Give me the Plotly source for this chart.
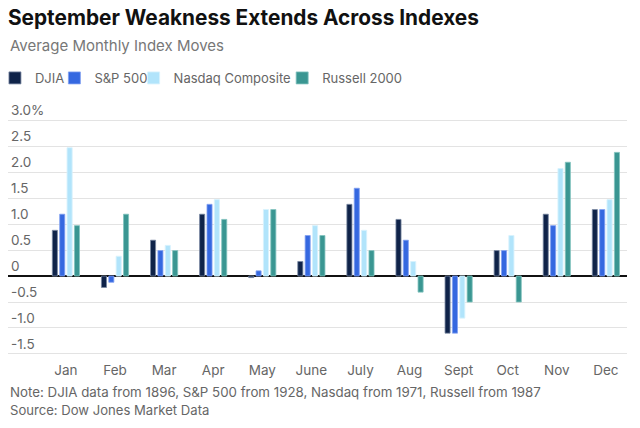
import plotly.graph_objects as go

# average monthly index moves, %
months = ['Jan', 'Feb', 'Mar', 'Apr', 'May', 'June', 'July', 'Aug', 'Sept', 'Oct', 'Nov', 'Dec']
djia = [0.88, -0.22, 0.69, 1.19, -0.03, 0.28, 1.38, 1.09, -1.10, 0.49, 1.19, 1.28]
sp500 = [1.19, -0.12, 0.49, 1.38, 0.10, 0.78, 1.69, 0.69, -1.10, 0.49, 0.97, 1.28]
nasdaq = [2.47, 0.38, 0.59, 1.47, 1.28, 0.97, 0.88, 0.28, -0.81, 0.78, 2.07, 1.47]
russell = [0.97, 1.19, 0.49, 1.09, 1.28, 0.78, 0.49, -0.31, -0.50, -0.50, 2.19, 2.38]

tick_vals = [3.0, 2.5, 2.0, 1.5, 1.0, 0.5, 0, -0.5, -1.0, -1.5]
tick_text = ['3.0%', '2.5', '2.0', '1.5', '1.0', '0.5', '0', '-0.5', '-1.0', '-1.5']

# name, values, fill, outline, legend id, legend x
series = [
    ('DJIA', djia, '#0f2349', 'rgba(120,135,160,0.8)', 'legend', -0.013),
    ('S&P 500', sp500, '#3568e0', 'rgba(130,160,240,0.8)', 'legend2', 0.083),
    ('Nasdaq Composite', nasdaq, '#b1e4fb', 'rgba(215,242,253,0.9)', 'legend3', 0.211),
    ('Russell 2000', russell, '#3a9692', 'rgba(130,195,190,0.8)', 'legend4', 0.451),
]

fig = go.Figure()
legends = {}
for name, vals, col, edge, leg, lx in series:
    fig.add_trace(go.Bar(x=months, y=vals, name=name, legend=leg,
                         marker=dict(color=col, line=dict(color=edge, width=1))))
    legends[leg] = dict(orientation='h', x=lx, xanchor='left', y=1.095, yanchor='middle',
                        font=dict(size=13, color='#666666'), itemwidth=30, indentation=-5,
                        itemclick=False, bgcolor='rgba(0,0,0,0)')

fig.update_layout(
    width=640, height=428,
    margin=dict(l=8, r=13, t=102, b=73, autoexpand=False),
    paper_bgcolor='white', plot_bgcolor='white',
    font=dict(family='Inter', color='#666666', size=13),
    barmode='group', bargap=0.40, bargroupgap=0.31,
    title=dict(text='<b>September Weakness Extends Across Indexes</b>',
               x=0.0125, xanchor='left', y=0.958, yanchor='middle',
               font=dict(family='Inter', size=20.8, color='#111111')),
    showlegend=True,
    **legends,
)

fig.add_annotation(text='Average Monthly Index Moves', xref='paper', yref='paper',
                   x=0.0, y=1.225, xanchor='left', yanchor='middle', showarrow=False,
                   font=dict(size=15, color='#777777'))
fig.add_annotation(text='Note: DJIA data from 1896, S&P 500 from 1928, Nasdaq from 1971, Russell from 1987',
                   xref='paper', yref='paper', x=0.0, y=-0.146, xanchor='left', yanchor='middle',
                   showarrow=False, font=dict(size=13.3, color='#666666'))
fig.add_annotation(text='Source: Dow Jones Market Data',
                   xref='paper', yref='paper', x=0.0, y=-0.217, xanchor='left', yanchor='middle',
                   showarrow=False, font=dict(size=13.1, color='#666666'))

fig.update_xaxes(range=[-1.18, 11.43], showgrid=False, showline=False, ticks='',
                 ticklabelstandoff=5, tickfont=dict(size=13.5, color='#666666'))
fig.update_yaxes(range=[-1.52, 3.35], tickvals=tick_vals, ticktext=tick_text,
                 ticklabelposition='inside top', showgrid=True, gridcolor='#e3e3e3',
                 gridwidth=1, zeroline=True, zerolinecolor='#111111', zerolinewidth=1.5,
                 tickfont=dict(size=13.5, color='#666666'))

# drop the browser's default body margin so the figure sits at the window corner
fig.write_html("out.html", config={'displayModeBar': False},
               post_script="document.body.style.margin='0';")
